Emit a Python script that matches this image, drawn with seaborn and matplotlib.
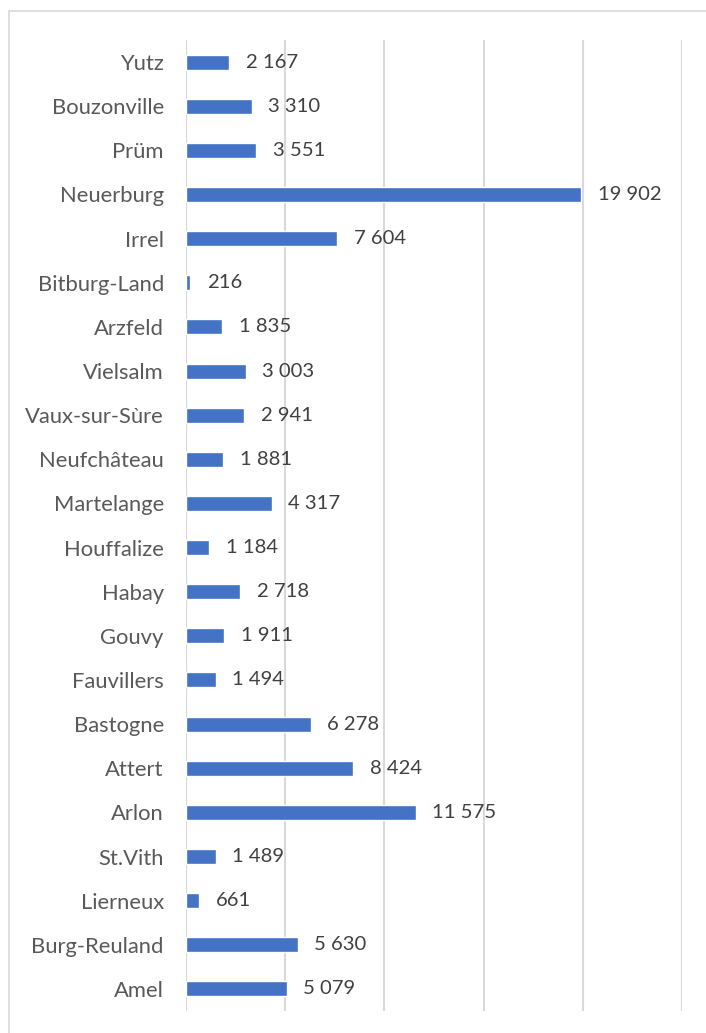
import matplotlib
matplotlib.use("Agg")
import matplotlib.pyplot as plt
import seaborn as sns
import pandas as pd
from matplotlib.patches import Rectangle

categories = ["Yutz", "Bouzonville", "Prüm", "Neuerburg", "Irrel", "Bitburg-Land",
              "Arzfeld", "Vielsalm", "Vaux-sur-Sùre", "Neufchâteau", "Martelange",
              "Houffalize", "Habay", "Gouvy", "Fauvillers", "Bastogne", "Attert",
              "Arlon", "St.Vith", "Lierneux", "Burg-Reuland", "Amel"]
values = [2167, 3310, 3551, 19902, 7604, 216, 1835, 3003, 2941, 1881, 4317,
          1184, 2718, 1911, 1494, 6278, 8424, 11575, 1489, 661, 5630, 5079]
x_ticks = [0, 5000, 10000, 15000, 20000, 25000]

sns.set_theme(style="white")
plt.rcParams['font.family'] = ['Lato', 'DejaVu Sans']

W, H = 706, 1033
fig = plt.figure(figsize=(W / 100, H / 100), dpi=100)
fig.patch.set_facecolor("white")
ax = fig.add_axes([186 / W, 1 - 1011 / H, (682 - 186) / W, (1011 - 40) / H])

df = pd.DataFrame({"name": categories, "value": values})
sns.barplot(data=df, y="name", x="value", orient="h", color="#4472C4",
            width=0.34, saturation=1, ax=ax)

ax.set_xlim(0, 25000)
ax.set_ylim(len(categories) - 0.5, -0.5)
ax.set_xticks(x_ticks)
ax.set_xticklabels([])
ax.grid(axis="x", color="#d9d9d9", linewidth=1.5)
ax.grid(axis="y", visible=False)
ax.set_axisbelow(True)
for s in ax.spines.values():
    s.set_visible(False)
ax.tick_params(axis="both", length=0)
ax.tick_params(axis="y", pad=16, labelsize=15.8, labelcolor="#595959")
ax.set_xlabel("")
ax.set_ylabel("")

for i, v in enumerate(values):
    lbl = f"{v:,}".replace(",", " ")
    ax.annotate(lbl, xy=(v, i), xytext=(12, 0), textcoords="offset points",
                ha="left", va="center", fontsize=14.6, color="#404040")

fig.patches.append(Rectangle((9 / W, -0.1), 1.2, 1 - 11 / H + 0.1,
                             transform=fig.transFigure, fill=False,
                             edgecolor="#d9d9d9", linewidth=1.2))

fig.savefig("out.png", dpi=100)
